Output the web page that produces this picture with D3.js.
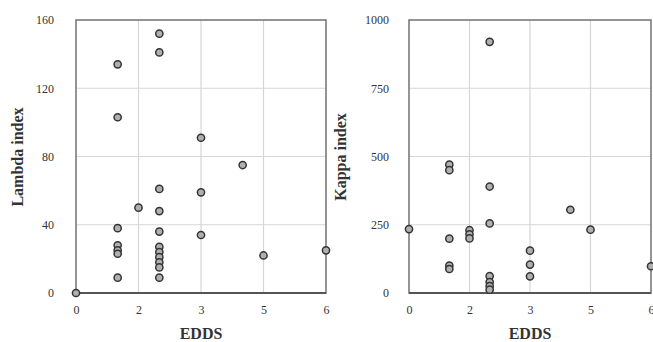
<!DOCTYPE html>
<html>
<head>
<meta charset="utf-8">
<script src="https://cdn.jsdelivr.net/npm/d3@7"></script>
<style>
  body { margin: 0; background: #fff; }
  svg text { font-family: 'Liberation Serif', 'DejaVu Serif', serif; fill: #333; }
</style>
</head>
<body>
<div id="chart"></div>
<script>
// x axis shared by both panels (EDDS), ticks every 1.5 shown rounded
const xTickValues = [0, 1.5, 3, 4.5, 6];
const xTickLabels = ['0', '2', '3', '5', '6'];

// Lambda panel
const lambdaX = [0, 1, 1, 1, 1, 1, 1, 1, 1.5, 2, 2, 2, 2, 2, 2, 2, 2, 2, 2, 2, 3, 3, 3, 4, 4.5, 6];
const lambdaY = [0, 134, 103, 38, 28, 25, 23, 9, 50, 152, 141, 61, 48, 36, 27, 24, 21, 18, 15, 9, 91, 59, 34, 75, 22, 25];
const lambdaTicks = [0, 40, 80, 120, 160];

// Kappa panel
const kappaX = [0, 1, 1, 1, 1, 1, 1.5, 1.5, 1.5, 2, 2, 2, 2, 2, 2, 2, 3, 3, 3, 4, 4.5, 6];
const kappaY = [234, 470, 450, 199, 100, 88, 230, 215, 200, 920, 390, 255, 62, 40, 25, 12, 155, 104, 61, 305, 232, 98];
const kappaTicks = [0, 250, 500, 750, 1000];

const W = 653, H = 342;

const svg = d3.select('#chart')
  .append('svg')
  .attr('width', W)
  .attr('height', H);

function panel(opts) {
  const { left, right, top, bottom, xs, ys, yTicks, yLabel, labelX, tickPad } = opts;

  const x = d3.scaleLinear().domain([0, 6]).range([left, right]);
  const y = d3.scaleLinear().domain([0, yTicks[yTicks.length - 1]]).range([bottom, top]);

  const g = svg.append('g');

  // gridlines
  g.selectAll('.vgrid')
    .data(xTickValues.slice(1, -1))
    .enter()
    .append('line')
    .attr('x1', d => x(d)).attr('x2', d => x(d))
    .attr('y1', top).attr('y2', bottom)
    .attr('stroke', '#d6d6d6')
    .attr('stroke-width', 1.2);

  g.selectAll('.hgrid')
    .data(yTicks.slice(1, -1))
    .enter()
    .append('line')
    .attr('x1', left).attr('x2', right)
    .attr('y1', d => y(d)).attr('y2', d => y(d))
    .attr('stroke', '#d6d6d6')
    .attr('stroke-width', 1.2);

  // frame
  g.append('rect')
    .attr('x', left).attr('y', top)
    .attr('width', right - left)
    .attr('height', bottom - top)
    .attr('fill', 'none')
    .attr('stroke', '#7a7a7a')
    .attr('stroke-width', 1.6);
  g.append('line')
    .attr('x1', left).attr('x2', right)
    .attr('y1', bottom).attr('y2', bottom)
    .attr('stroke', '#555')
    .attr('stroke-width', 2);

  // axes (labels only)
  const xAxis = g.append('g')
    .attr('transform', 'translate(0,' + bottom + ')')
    .call(d3.axisBottom(x)
      .tickValues(xTickValues)
      .tickFormat((d, i) => xTickLabels[i])
      .tickSize(0)
      .tickPadding(12));
  xAxis.select('.domain').remove();
  xAxis.selectAll('text')
    .attr('font-size', 12)
    .style('font-family', "'Liberation Serif', serif")
    .attr('fill', '#333');

  const yAxis = g.append('g')
    .attr('transform', 'translate(' + left + ',0)')
    .call(d3.axisLeft(y)
      .tickValues(yTicks)
      .tickFormat(d3.format('d'))
      .tickSize(0)
      .tickPadding(tickPad));
  yAxis.select('.domain').remove();
  yAxis.selectAll('text')
    .attr('font-size', 12)
    .style('font-family', "'Liberation Serif', serif")
    .attr('fill', '#333');

  // axis titles
  g.append('text')
    .attr('x', (left + right) / 2)
    .attr('y', 339)
    .attr('text-anchor', 'middle')
    .attr('font-size', 16)
    .attr('font-weight', 'bold')
    .text('EDDS');

  g.append('text')
    .attr('transform', 'translate(' + labelX + ',157)rotate(-90)')
    .attr('text-anchor', 'middle')
    .attr('dy', '0.35em')
    .attr('font-size', 16)
    .attr('font-weight', 'bold')
    .text(yLabel);

  // points
  g.selectAll('.pt')
    .data(xs.map((d, i) => [d, ys[i]]))
    .enter()
    .append('circle')
    .attr('cx', d => x(d[0]))
    .attr('cy', d => y(d[1]))
    .attr('r', 3.6)
    .attr('fill', '#b0b0b0')
    .attr('stroke', '#333')
    .attr('stroke-width', 1.5);
}

panel({
  left: 76, right: 326, top: 20, bottom: 293,
  xs: lambdaX, ys: lambdaY, yTicks: lambdaTicks, yLabel: 'Lambda index',
  labelX: 17, tickPad: 22
});

panel({
  left: 409, right: 651, top: 20, bottom: 293,
  xs: kappaX, ys: kappaY, yTicks: kappaTicks, yLabel: 'Kappa index',
  labelX: 340, tickPad: 20
});
</script>
</body>
</html>
